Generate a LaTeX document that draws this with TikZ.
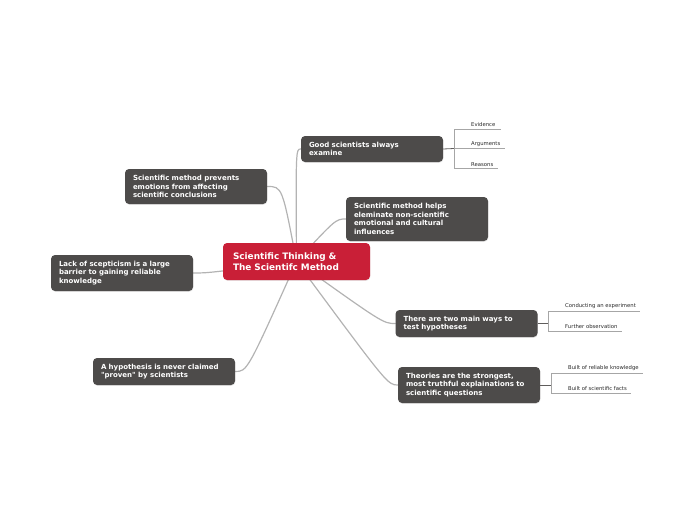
\documentclass[tikz,border=0pt]{standalone}
\usepackage{fontspec}
\setmainfont{DejaVu Sans}[Ligatures=TeXOff]
\usetikzlibrary{backgrounds,shadows,calc}
\definecolor{cred}{HTML}{C91F37}
\definecolor{cdark}{HTML}{4D4B4A}
\definecolor{cline}{HTML}{B3B3B3}
\definecolor{csub}{HTML}{A6A6A6}
\tikzset{
  topic/.style={fill=cdark, text=white, rounded corners=4pt, inner xsep=8pt,
    text width=126pt, minimum width=142pt, align=left,
    font=\bfseries\fontsize{7.0}{8.7}\selectfont,
    drop shadow={opacity=0.18, shadow xshift=0.4pt, shadow yshift=-0.8pt}},
  central/.style={fill=cred, text=white, rounded corners=4pt, inner xsep=10pt,
    text width=127pt, minimum width=147pt, minimum height=37pt, align=left,
    font=\bfseries\fontsize{8.9}{10.6}\selectfont,
    drop shadow={opacity=0.18, shadow xshift=0.4pt, shadow yshift=-0.8pt}},
  branch/.style={draw=cline, line width=1.2pt, line cap=round},
  stub/.style={draw=cdark!90, line width=0.8pt},
  bracket/.style={draw=csub, line width=0.6pt},
  leaf/.style={anchor=south west, inner xsep=0pt, inner ysep=2pt,
    font=\fontsize{5.3}{6.4}\selectfont, text=black!85},
}
\begin{document}
\begin{tikzpicture}[x=1pt,y=-1pt]
\useasboundingbox (0,0) rectangle (697,520);

\node[central] (c) at (296.5,261.5) {Scientific Thinking \&\\The Scientifc Method};
\node[topic, minimum height=26pt] (g) at (372,149) {Good scientists always\\examine};
\node[topic, minimum height=35pt] (p) at (196,186.5) {Scientific method prevents\\emotions from affecting\\scientific conclusions};
\node[topic, minimum height=44pt] (h) at (417,219) {Scientific method helps\\eleminate non-scientific\\emotional and cultural\\influences};
\node[topic, minimum height=36pt] (l) at (122,273) {Lack of scepticism is a large\\barrier to gaining reliable\\knowledge};
\node[topic, minimum height=27pt] (t) at (466.5,323.5) {There are two main ways to\\test hypotheses};
\node[topic, minimum height=36pt] (th) at (469,385) {Theories are the strongest,\\most truthful explainations to\\scientific questions};
\node[topic, minimum height=27pt] (hy) at (164,371.5) {A hypothesis is never claimed\\"proven" by scientists};

% leaves
\node[leaf] (ev) at (471,129) {Evidence};
\node[leaf] (ar) at (471,148.5) {Arguments};
\node[leaf] (re) at (471,168.5) {Reasons};
\node[leaf] (ce) at (565,311) {Conducting an experiment};
\node[leaf] (fo) at (565,331) {Further observation};
\node[leaf] (br) at (568,373) {Built of reliable knowledge};
\node[leaf] (bs) at (568,393) {Built of scientific facts};

\coordinate (gj) at (454,148.5);
\coordinate (tj) at (548,323.5);
\coordinate (thj) at (551,385);

\begin{scope}[on background layer]
\draw[branch] (c.center) .. controls ($(g.west)+(-5,0)$) .. (g.west);
\draw[branch] (c.center) .. controls ($(p.east)+(15,0)$) .. (p.east);
\draw[branch] (c.center) .. controls ($(h.west)+(-10,0)$) .. (h.west);
\draw[branch] (c.center) .. controls ($(l.east)+(15,0)$) .. (l.east);
\draw[branch] (c.center) .. controls ($(t.west)+(-12,0)$) .. (t.west);
\draw[branch] (c.center) .. controls ($(th.west)+(-10,0)$) .. (th.west);
\draw[branch] (c.center) .. controls ($(hy.east)+(12,0)$) .. (hy.east);
\end{scope}

\draw[stub] (g.east) -- (gj);
\draw[bracket] (gj) |- ([xshift=5pt]ev.south east);
\draw[bracket] (gj) |- ([xshift=5pt]ar.south east);
\draw[bracket] (gj) |- ([xshift=5pt]re.south east);

\draw[stub] (t.east) -- (tj);
\draw[bracket] (tj) |- ([xshift=4pt]ce.south east);
\draw[bracket] (tj) |- ([xshift=4pt]fo.south east);

\draw[stub] (th.east) -- (thj);
\draw[bracket] (thj) |- ([xshift=4pt]br.south east);
\draw[bracket] (thj) |- ([xshift=4pt]bs.south east);
\end{tikzpicture}
\end{document}
